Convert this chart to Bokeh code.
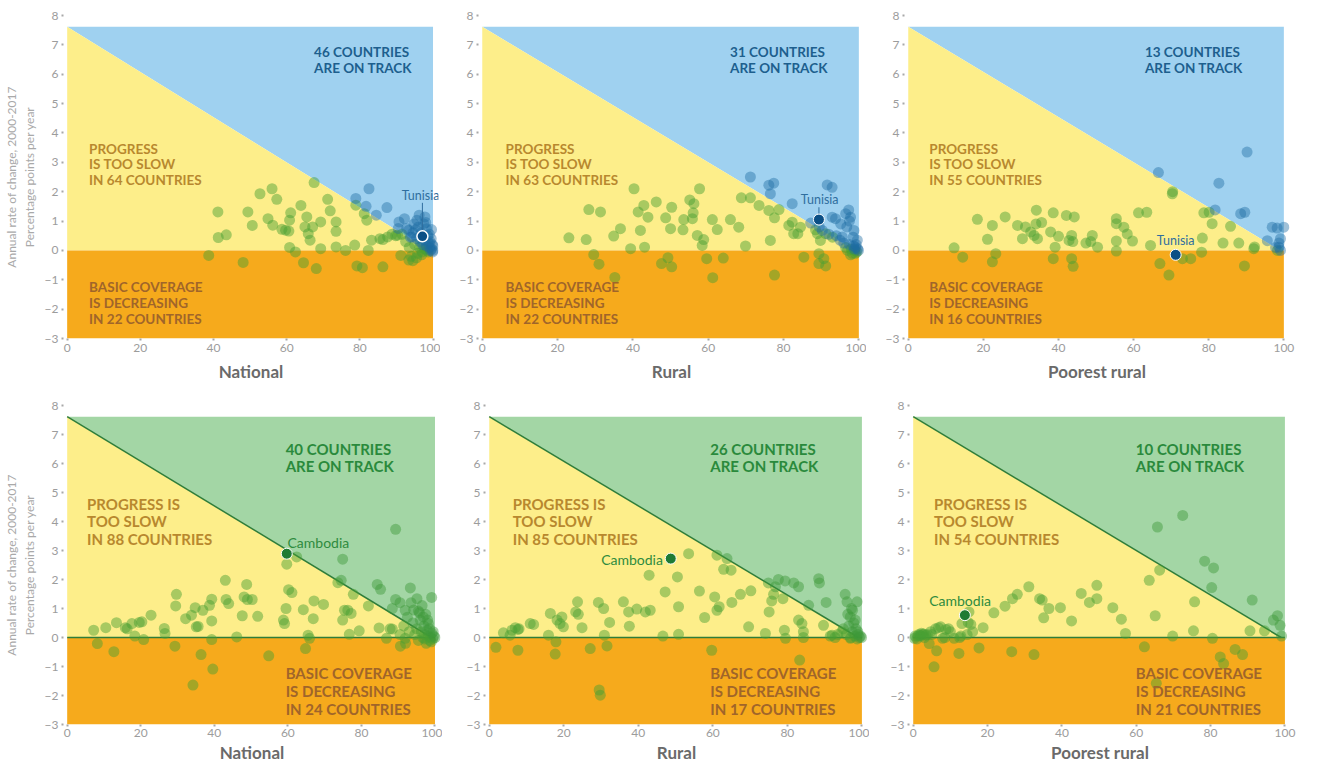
from bokeh.plotting import figure
from bokeh.layouts import column, row
from bokeh.models import Range1d, Label, FixedTicker
from bokeh.embed import file_html
from bokeh.resources import INLINE
import numpy as np

# ---------------- data ----------------
panel_titles = ["National", "Rural", "Poorest rural", "National", "Rural", "Poorest rural"]
on_track_counts = [46, 31, 13, 40, 26, 10]
too_slow_counts = [64, 63, 55, 88, 85, 54]
decreasing_counts = [22, 22, 16, 24, 17, 21]
x_ticks = [0, 20, 40, 60, 80, 100]
y_ticks = [-3, -2, -1, 0, 1, 2, 3, 4, 5, 6, 7, 8]
y_title = "Annual rate of change, 2000-2017\nPercentage points per year"

# top row, national coverage (%) and annual change (pp/year)
top_national_x = [38.7, 41.2, 41.3, 43.5, 48.1, 49.4, 50.6, 52.7, 54.9, 56.0, 56.2, 57.3, 58.7, 59.7, 60.6, 60.8,
                  61.1, 60.8, 62.4, 63.9, 64.6, 65.0, 65.5, 65.9, 66.4, 67.5, 67.1, 68.1, 69.3, 69.3, 71.2, 71.9,
                  73.5, 73.5, 73.5, 76.1, 78.6, 78.9, 78.9, 79.2, 80.7, 81.2, 81.9, 82.3, 83.2, 84.5, 86.3, 86.3,
                  87.6, 88.8, 90.3, 91.2, 93.4, 82.5, 81.7, 87.4, 90.7, 92.2, 93.4, 94.2, 95.6, 97.8, 98.2, 99.6,
                  92.5, 93.5, 94.0, 94.5, 95.0, 95.5, 95.8, 96.0, 96.3, 96.5, 96.8, 97.0, 97.2, 97.5, 97.8, 98.0,
                  98.2, 98.5, 98.7, 98.9, 99.1, 99.3, 99.5, 99.6, 99.8, 100.0, 99.9, 98.4, 97.6, 96.9, 95.2, 94.8,
                  93.8, 92.8, 91.5, 90.5, 89.8, 99.0, 98.0, 96.2, 99.2, 100.0, 94.5, 95.5, 85.5]
top_national_y = [-0.17, 1.31, 0.44, 0.53, -0.41, 1.31, 0.85, 1.93, 1.08, 2.10, 0.86, 1.74, 0.72, 0.69, 0.66, 1.03,
                  1.28, 0.10, -0.05, 1.53, -0.42, 0.80, 1.14, 0.57, 0.35, 2.31, 0.80, -0.62, 0.97, 0.06, 1.74, 1.35,
                  0.97, 0.65, 0.12, 0.00, 0.18, 1.77, 1.54, -0.53, -0.59, 1.25, 1.03, 0.00, 0.35, 1.20, -0.56, 0.37,
                  0.46, 0.55, 0.52, -0.17, -0.33, 2.10, 1.50, 1.46, 0.97, 1.08, 0.69, 0.46, 1.03, 1.14, 0.74, 0.71,
                  0.30, 0.10, -0.20, 0.60, 0.20, 0.40, -0.10, 0.80, 0.10, 0.30, 0.60, -0.05, 0.20, 0.90, 0.35, 0.05,
                  0.15, 0.50, -0.05, 0.25, 0.10, 0.00, 0.40, 0.05, 0.20, 0.00, -0.05, 0.00, 0.05, -0.15, 0.70, 0.90,
                  0.45, 0.75, 0.55, 0.75, 0.50, 0.55, 0.95, 1.20, 0.30, 0.15, -0.35, -0.25, 0.40]

top_rural_x = [23.0, 27.6, 28.3, 29.6, 31.0, 31.4, 34.9, 35.2, 36.7, 39.4, 40.3, 41.4, 42.0, 42.9, 43.1, 44.0,
               46.2, 47.6, 48.7, 49.3, 50.3, 50.3, 50.0, 53.3, 53.5, 55.1, 55.8, 56.2, 56.0, 57.1, 57.7, 58.4,
               58.8, 59.6, 61.1, 61.2, 62.4, 64.0, 65.9, 68.1, 68.8, 69.9, 71.2, 73.5, 76.5, 76.1, 77.6, 77.6,
               78.8, 81.4, 82.3, 82.7, 83.8, 84.5, 85.4, 87.2, 89.0, 89.4, 89.4, 89.8, 90.7, 91.2,
               71.2, 76.1, 77.4, 76.5, 82.3, 91.6, 92.9, 92.9, 93.8, 96.5, 97.3, 97.8, 98.7, 95.6,
               96.5, 97.0, 97.5, 98.0, 98.3, 98.6, 98.9, 99.2, 99.5, 99.7, 99.9, 97.8, 96.0, 95.0, 94.0, 93.0,
               92.0, 91.2, 90.3, 89.5, 88.5, 99.3, 98.5, 99.6, 96.8, 95.2, 97.5, 98.8, 99.1]
top_rural_y = [0.43, 0.37, 1.39, -0.14, -0.47, 1.31, 0.49, -0.92, 0.74, 0.06, 2.10, 1.31, 0.68, 1.53, 0.11, 1.13,
               1.65, -0.45, 1.11, -0.25, 1.47, -0.56, 0.74, 0.70, 1.05, 1.72, 1.08, 1.59, 1.28, 0.51, 2.10, 0.17,
               0.37, -0.28, 1.05, -0.93, 0.71, -0.26, 1.05, 0.79, 1.79, 0.15, 1.79, 1.53, 0.34, 1.36, -0.84, 1.11,
               1.39, 0.85, 0.96, 0.57, 0.57, 0.79, -0.23, 0.93, 0.57, -0.11, -0.45, 0.34, -0.28, -0.53,
               2.50, 2.22, 2.29, 1.93, 1.59, 2.23, 2.15, 1.13, 1.08, 1.25, 1.38, 1.13, 0.68, 0.46,
               0.10, 0.00, 0.20, 0.05, -0.10, 0.15, 0.00, 0.10, -0.05, 0.05, 0.00, -0.15, 0.25, 0.35, 0.50, 0.45,
               0.55, 0.57, 0.68, 0.80, 0.70, 0.20, 0.45, 0.35, 0.80, 0.90, 1.00, 0.05, -0.10]

top_poorest_x = [12.2, 14.5, 18.4, 21.1, 22.4, 22.4, 23.3, 25.8, 29.1, 30.4, 31.2, 32.6, 33.5, 34.1, 34.4, 34.0,
                 35.5, 37.9, 38.6, 38.6, 39.1, 40.0, 42.1, 42.8, 43.5, 43.5, 43.9, 44.2, 43.8, 47.3, 48.6, 49.0,
                 50.4, 55.4, 55.4, 55.4, 55.4, 57.4, 58.3, 59.7, 61.3, 63.5, 64.5, 67.0, 69.4, 70.3, 70.4, 73.0,
                 75.2, 78.1, 78.3, 78.7, 80.9, 83.8, 85.8, 88.0, 89.5, 92.0, 92.2, 95.6, 80.1,
                 66.6, 82.7, 90.2, 81.7, 88.5, 89.6, 96.9, 98.2, 100.0, 99.1, 98.7, 99.1, 97.8, 98.3, 98.7]
top_poorest_y = [0.09, -0.23, 1.06, 0.38, 0.85, -0.39, -0.11, 1.14, 0.85, 0.40, 0.80, 0.63, 0.51, 1.37, 0.40, 0.90,
                 0.95, 0.63, 1.28, -0.28, 0.11, 0.48, 1.19, 0.34, 0.51, -0.28, -0.54, 1.14, 0.30, 0.25, 0.30, 0.51,
                 0.11, 1.08, 0.91, -0.02, 0.32, 0.79, 0.56, 0.32, 1.28, 1.30, 0.17, -0.45, -0.84, 1.93, 2.00, -0.28,
                 -0.28, -0.06, 0.42, 1.28, 0.91, 0.25, 0.82, 0.25, -0.53, 0.06, 0.12, 0.33, 1.30,
                 2.65, 2.29, 3.35, 1.38, 1.25, 1.30, 0.79, 0.76, 0.79, 0.40, 0.11, 0.00, 0.10, 0.00, 0.25]

bottom_national_x = [7.2, 8.2, 10.5, 12.7, 13.4, 15.8, 16.3, 17.6, 18.4, 19.6, 20.3, 20.8, 22.8, 26.4, 26.6, 29.3,
                     29.7, 29.5, 32.2, 33.8, 34.2, 34.8, 35.1, 35.6, 36.4, 36.9, 38.7, 39.3, 39.3, 39.3, 39.6, 43.0,
                     43.2, 43.9, 46.1, 47.6, 48.1, 48.8, 49.0, 50.3, 51.8, 54.8, 58.8, 59.1, 59.5, 59.7, 60.2, 61.1,
                     62.4, 64.2, 64.8, 65.5, 65.9, 66.9, 67.1, 69.7, 73.6, 74.5, 74.9, 75.4, 76.3, 77.2, 76.7, 77.8,
                     79.4, 81.9, 84.8, 86.8, 88.4, 87.8, 90.6, 91.9,
                     89.3, 74.9, 84.3, 85.2, 93.3, 95.1, 99.1, 89.3, 88.4, 91.9, 95.5, 96.8, 98.2, 90.5,
                     93.0, 94.0, 94.5, 95.0, 95.5, 96.0, 96.3, 96.7, 97.0, 97.3, 97.6, 97.9, 98.2, 98.5, 98.8, 99.1,
                     99.4, 99.7, 100.0, 99.0, 98.0, 97.5, 96.5, 95.8, 94.2, 93.5, 92.5, 91.5, 90.5, 92.0, 98.6, 99.5,
                     97.2]
bottom_national_y = [0.25, -0.21, 0.34, -0.49, 0.51, 0.34, 0.30, 0.48, 0.05, 0.52, 0.54, -0.07, 0.77, 0.31, 0.14, -0.30,
                     1.49, 1.09, 0.65, 0.77, -1.64, 1.03, 0.37, 0.38, -0.59, 0.94, 1.11, 1.32, 0.57, -0.07, -1.09, 1.97,
                     1.31, 1.17, 0.02, 0.75, 1.40, 1.83, 1.31, 1.31, 0.73, -0.63, 0.60, 0.48, 1.00, 2.53, 1.65, 1.55,
                     2.78, 0.96, -0.38, 0.08, -0.03, 0.65, 1.26, 1.14, 1.89, 1.97, 0.60, 0.94, 0.94, 0.83, 0.11, 1.49,
                     0.23, 1.09, 0.33, -0.03, 0.29, 0.30, -0.30, -0.03,
                     3.73, 2.70, 1.83, 1.66, 1.71, 1.34, 1.38, 1.31, 1.00, 0.94, 0.91, 0.71, 0.48, 1.20,
                     0.20, 0.50, 0.10, 0.30, -0.10, 0.60, 0.20, 0.00, 0.40, 0.10, -0.20, 0.25, 0.05, 0.30, 0.00, 0.15,
                     -0.05, 0.05, 0.00, -0.15, 0.60, 0.80, 1.10, 0.85, 0.95, 1.20, 0.70, 0.40, 0.10, -0.20, -0.10, 0.20,
                     -0.05]

bottom_rural_x = [1.8, 3.8, 5.6, 6.1, 7.0, 7.7, 8.0, 7.7, 11.0, 11.9, 15.9, 16.4, 17.7, 17.9, 18.2, 19.0,
                  19.5, 19.9, 23.2, 23.7, 23.9, 24.9, 27.1, 29.3, 29.5, 29.8, 30.7, 30.9, 31.6, 32.3, 36.0, 37.4,
                  37.6, 39.6, 41.9, 43.2, 42.9, 46.6, 47.2, 50.5, 50.8, 50.8, 53.5, 56.4, 57.8, 59.7, 60.5, 61.1,
                  61.1, 61.7, 62.9, 63.8, 64.9, 65.1, 67.4, 69.6, 70.2, 74.1, 75.1, 75.8, 76.3, 76.8, 78.8, 79.2,
                  79.5, 83.0, 83.3, 83.9, 84.3, 84.3, 89.7, 92.0, 92.8, 94.6, 96.9,
                  74.9, 77.6, 79.4, 81.7, 83.0, 88.4, 88.6, 85.7, 90.4, 95.5, 96.0, 98.7, 96.9, 97.5, 98.2,
                  95.0, 95.8, 96.5, 97.0, 97.4, 97.8, 98.1, 98.4, 98.7, 99.0, 99.3, 99.6, 99.9, 98.9, 96.2, 97.2,
                  93.5, 91.5]
bottom_rural_y = [-0.34, 0.16, 0.08, 0.25, 0.34, 0.28, 0.30, -0.44, 0.48, 0.45, 0.08, 0.83, -0.57, -0.15, 0.60, 0.48,
                  0.71, 0.37, 0.88, 1.23, 0.80, 0.34, -0.38, 1.21, -1.81, -1.99, 1.00, 0.08, -0.29, 0.52, 1.23, 0.88,
                  0.39, 0.98, 0.88, 0.94, 2.15, 0.05, 1.57, 2.09, 1.06, 0.11, 2.89, 1.60, 0.69, -0.44, 1.40, 0.94,
                  2.84, 1.06, 2.35, 2.72, 2.32, 1.21, 1.49, 0.37, 1.61, 0.14, 0.88, 1.26, 1.49, 1.75, 1.34, 0.25,
                  -0.03, 0.60, -0.78, 0.48, 0.20, 0.00, 0.42, 0.08, 0.00, 0.20, -0.03,
                  1.88, 2.00, 1.95, 1.88, 1.75, 2.03, 1.88, 1.11, 1.21, 1.49, 1.23, 1.23, 0.71, 0.94, 0.60,
                  0.30, 0.10, 0.40, 0.00, 0.20, 0.50, 0.05, 0.30, -0.05, 0.10, 0.00, 0.05, 0.00, 0.20, 0.80, 1.00,
                  0.10, 0.05]

bottom_poorest_x = [0.3, 1.2, 1.8, 2.5, 3.4, 4.3, 4.7, 5.6, 6.3, 6.8, 7.4, 7.9, 8.8, 11.0, 12.3, 12.5,
                    13.1, 14.8, 15.0, 14.5, 17.7, 18.8, 21.7, 24.7, 26.5, 26.7, 28.0, 31.1, 32.5, 34.0, 34.7, 35.1,
                    36.5, 39.6, 42.6, 45.2, 47.4, 49.4, 49.4, 53.7, 56.0, 57.1, 62.2, 63.5, 65.1, 65.4, 66.3, 69.8,
                    75.4, 75.7, 80.5, 82.6, 83.5, 86.6, 88.6, 90.6, 94.5, 99.1,
                    65.7, 72.5, 78.4, 80.8, 80.3, 91.2, 96.9, 98.0, 98.7,
                    0.5, 1.0, 1.5, 2.0, 2.8, 3.0, 3.8, 9.5, 10.0, 6.0, 5.0, 12.8, 16.0, 15.5, 8.5, 2.2]
bottom_poorest_y = [-0.03, 0.05, 0.08, 0.10, 0.08, -0.21, 0.20, -1.01, -0.46, 0.34, 0.37, -0.03, 0.28, -0.03, -0.55, 0.00,
                    0.48, 0.52, 0.88, 0.10, -0.36, 0.34, 0.85, 1.08, -0.49, 1.34, 1.49, 1.75, -0.59, 1.34, 1.29, 0.68,
                    1.00, 1.03, 0.57, 1.52, 1.21, 1.34, 1.80, 1.03, 0.63, 0.14, -0.32, 1.97, 0.75, -1.58, 2.32, 0.05,
                    0.23, 1.23, -0.03, -0.67, -0.90, -0.41, -0.59, 0.23, 0.23, 0.05,
                    3.81, 4.21, 2.63, 2.40, 1.72, 1.29, 0.60, 0.75, 0.42,
                    0.05, -0.05, 0.10, 0.05, 0.12, 0.00, 0.10, 0.30, 0.20, 0.30, 0.10, 0.05, 0.20, 0.45, 0.00, 0.15]

# highlighted countries
tunisia_x = [97.1, 89.4, 71.2]
tunisia_y = [0.48, 1.05, -0.15]
cambodia_x = [59.7, 48.7, 13.9]
cambodia_y = [2.89, 2.72, 0.77]

series_x = [top_national_x, top_rural_x, top_poorest_x, bottom_national_x, bottom_rural_x, bottom_poorest_x]
series_y = [top_national_y, top_rural_y, top_poorest_y, bottom_national_y, bottom_rural_y, bottom_poorest_y]

# ---------------- geometry / styles ----------------
TARGET = 99.0        # coverage target
YEARS_LEFT = 13.0    # 2017 -> 2030
X_RANGE = (-1.0, 101.5)
Y_RANGE = (-3.0, 8.0)
FONT = "Lato"

YELLOW = "#fdee8a"
ORANGE = "#f6aa1c"
SLOW_TEXT = "#b8882e"
DECR_TEXT = "#a0652a"

row_styles = [
    dict(track_fill="#9fd1f0", track_text="#1d5f8e", point_track="#1c6ca3", point_other="#49a033",
         track_alpha=0.42, hl_fill="#0b4f85", hl_text="#2f6e9e", lines=False, font_size=13.5, line_step=0.53,
         slow_words=("PROGRESS", "IS TOO SLOW"), tick_standoff=3, label_standoff=6),
    dict(track_fill="#a3d6a5", track_text="#2a8a3c", point_track="#3f9a3a", point_other="#49a033",
         track_alpha=0.45, hl_fill="#1e7b34", hl_text="#2e8b3e", lines=True, font_size=15, line_step=0.61,
         slow_words=("PROGRESS IS", "TOO SLOW"), tick_standoff=2, label_standoff=2),
]

# (width, height, border_left, border_right, border_top, border_bottom)
sizes = [(440, 390, 53, 2, 15, 52), (426, 390, 38, 2, 15, 52), (435, 390, 38, 12, 15, 52),
         (442, 377, 59, 2, 15, 43), (427, 377, 43, 2, 15, 43), (432, 377, 40, 11, 15, 43)]

# text anchors: (on-track x, on-track y), (slow x, slow y), (decreasing x, decreasing y)
text_pos = [((67.5, 6.75), (6.0, 3.47), (6.0, -1.26)),
            ((65.8, 6.75), (6.2, 3.47), (6.2, -1.26)),
            ((63.0, 6.75), (5.6, 3.47), (5.6, -1.26)),
            ((59.4, 6.51), (5.4, 4.62), (59.4, -1.24)),
            ((59.3, 6.51), (6.3, 4.62), (59.3, -1.24)),
            ((59.9, 6.51), (5.6, 4.62), (59.9, -1.24))]

# highlight label: (x, y, align, leader)
hl_labels = [(96.6, 1.88, "center", True), (89.6, 1.73, "center", True), (71.2, 0.35, "center", False),
             (59.9, 3.26, "left", False), (46.6, 2.69, "right", False), (4.3, 1.29, "left", False)]


def add_text(p, x, y, text, color, size, bold=True, align="left"):
    p.add_layout(Label(x=x, y=y, text=text, text_color=color, text_font=FONT,
                       text_font_size=f"{size}px", text_font_style="bold" if bold else "normal",
                       text_align=align, text_baseline="middle"))


def build(i):
    r = 0 if i < 3 else 1
    st = row_styles[r]
    w, h, bl, br, bt, bb = sizes[i]
    p = figure(width=w, height=h, x_range=Range1d(*X_RANGE), y_range=Range1d(*Y_RANGE),
               output_backend="svg", toolbar_location=None,
               min_border_left=bl, min_border_right=br, min_border_top=bt, min_border_bottom=bb)
    p.outline_line_color = None
    p.grid.visible = False
    p.background_fill_color = "white"
    p.border_fill_color = "white"

    y_start = TARGET / YEARS_LEFT
    # regions
    p.patch([0, 100, 100, TARGET], [y_start, y_start, 0, 0], fill_color=st["track_fill"], line_color=None)
    p.patch([0, 0, TARGET], [0, y_start, 0], fill_color=YELLOW, line_color=None)
    p.patch([0, 100, 100, 0], [Y_RANGE[0], Y_RANGE[0], 0, 0], fill_color=ORANGE, line_color=None)
    if st["lines"]:
        p.line([0, TARGET], [y_start, 0], line_color="#2f7d3a", line_width=1.5)
        p.line([0, 100], [0, 0], line_color="#2f7d3a", line_width=1.5)

    # points
    xs = np.array(series_x[i], dtype=float)
    ys = np.array(series_y[i], dtype=float)
    on_track = ys > (TARGET - xs) / YEARS_LEFT
    p.scatter(xs[~on_track], ys[~on_track], size=11, fill_color=st["point_other"], fill_alpha=0.47,
              line_color=None)
    p.scatter(xs[on_track], ys[on_track], size=11, fill_color=st["point_track"], fill_alpha=st["track_alpha"],
              line_color=None)

    # highlighted country
    k = i % 3
    hx = (tunisia_x if r == 0 else cambodia_x)[k]
    hy = (tunisia_y if r == 0 else cambodia_y)[k]
    name = "Tunisia" if r == 0 else "Cambodia"
    lx, ly, align, leader = hl_labels[i]
    if leader:
        p.line([hx, hx], [hy + 0.18, ly - 0.26], line_color=st["hl_text"], line_width=1)
    p.scatter([hx], [hy], size=11, fill_color=st["hl_fill"], line_color="white",
              line_width=1.5 if i == 0 else 1)
    add_text(p, lx, ly, name, st["hl_text"], 12.5 if r == 0 else 14, bold=False, align=align)

    # region texts
    fs = st["font_size"]
    step = st["line_step"]
    (tx, ty), (sx, sy), (dx, dy) = text_pos[i]
    add_text(p, tx, ty, f"{on_track_counts[i]} COUNTRIES", st["track_text"], fs)
    add_text(p, tx, ty - step, "ARE ON TRACK", st["track_text"], fs)
    add_text(p, sx, sy, st["slow_words"][0], SLOW_TEXT, fs)
    add_text(p, sx, sy - step, st["slow_words"][1], SLOW_TEXT, fs)
    add_text(p, sx, sy - 2 * step, f"IN {too_slow_counts[i]} COUNTRIES", SLOW_TEXT, fs)
    add_text(p, dx, dy, "BASIC COVERAGE", DECR_TEXT, fs)
    add_text(p, dx, dy - step, "IS DECREASING", DECR_TEXT, fs)
    add_text(p, dx, dy - 2 * step, f"IN {decreasing_counts[i]} COUNTRIES", DECR_TEXT, fs)

    # axes
    p.xaxis.ticker = FixedTicker(ticks=x_ticks)
    p.yaxis.ticker = FixedTicker(ticks=y_ticks)
    for ax in p.axis:
        ax.axis_line_color = None
        ax.major_tick_line_color = "#a8a8a8"
        ax.major_tick_line_width = 2
        ax.major_tick_in = 0
        ax.major_tick_out = 2
        ax.minor_tick_line_color = None
        ax.major_label_text_color = "#9c9c9c"
        ax.major_label_text_font = FONT
        ax.major_label_text_font_size = "12px"
        ax.major_label_standoff = 3
    p.xaxis.major_label_standoff = st["tick_standoff"]
    p.xaxis.axis_label = panel_titles[i]
    p.xaxis.axis_label_text_font = FONT
    p.xaxis.axis_label_text_font_style = "bold"
    p.xaxis.axis_label_text_font_size = "17px"
    p.xaxis.axis_label_text_color = "#6a6a6a"
    p.xaxis.axis_label_standoff = st["label_standoff"]
    if i % 3 == 0:
        p.yaxis.axis_label = y_title
        p.yaxis.axis_label_text_font = FONT
        p.yaxis.axis_label_text_font_style = "normal"
        p.yaxis.axis_label_text_font_size = "12px"
        p.yaxis.axis_label_text_color = "#a9a9a9"
        p.yaxis.axis_label_standoff = 5
    return p


figs = [build(i) for i in range(6)]
layout = column(row(*figs[:3], spacing=0), row(*figs[3:], spacing=0), spacing=0)

open("out.html", "w").write(file_html(layout, INLINE))
